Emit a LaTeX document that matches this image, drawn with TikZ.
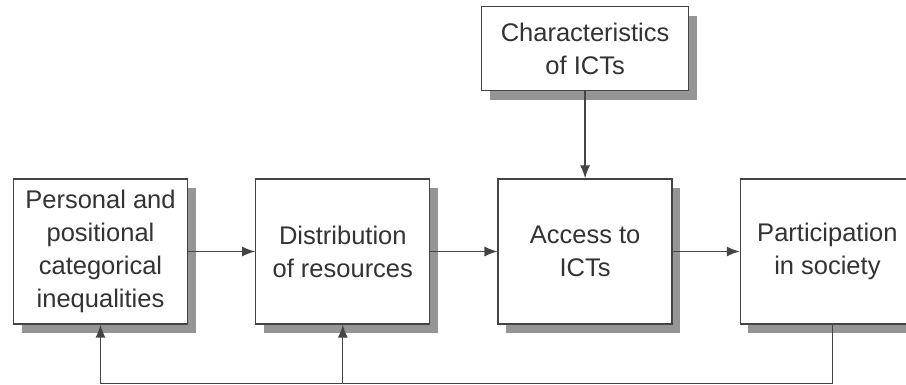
\documentclass[tikz,border=0pt]{standalone}
\usepackage{fontspec}
\setmainfont{Liberation Sans}
\usepackage{xcolor}
\definecolor{ink}{HTML}{333333}
\definecolor{edge}{HTML}{444444}
\definecolor{shade}{HTML}{959595}
\usetikzlibrary{arrows.meta, positioning, shadows, calc}

\begin{document}
\begin{tikzpicture}[
        node distance=67pt and 67pt,
        stage/.style={draw=edge, line width=1.3pt, rectangle, minimum width=174pt, minimum height=145pt, align=center, fill=white, text=ink, font=\fontsize{25.5}{33}\selectfont, drop shadow={shadow xshift=8pt, shadow yshift=-9pt, fill=shade, opacity=1}},
        wire/.style={-{Latex[length=13pt, width=10pt]}, line width=1.3pt, draw=edge},
        line/.style={line width=1.3pt, draw=edge}
    ]
        \useasboundingbox (0,0) rectangle (906pt,385pt);

        % Main chain
        \node[stage] (pers) at (100.5pt,133.5pt) {Personal and\\positional\\categorical\\inequalities};
        \node[stage, right=of pers] (dist) {Distribution\\of resources};
        \node[stage, right=of dist] (acc) {Access to\\ICTs};
        \node[stage, right=of acc] (soc) {Participation\\in society};

        % Input from above
        \node[stage, minimum width=207pt, minimum height=84pt, above=87pt of acc] (ict) {Characteristics\\of ICTs};

        % Arrows
        \draw[wire] (pers.east) -- (dist.west);
        \draw[wire] (dist.east) -- (acc.west);
        \draw[wire] (acc.east) -- (soc.west);
        \draw[wire] (ict.south) -- (acc.north);

        % Feedback loop
        \coordinate (loop) at ($(soc.south)+(5pt,-59pt)$);
        \draw[line] ([xshift=5pt]soc.south) -- (loop);
        \draw[wire] (loop) -| (pers.south);
        \draw[wire] (loop -| dist.south) -- (dist.south);

    \end{tikzpicture}
\end{document}
